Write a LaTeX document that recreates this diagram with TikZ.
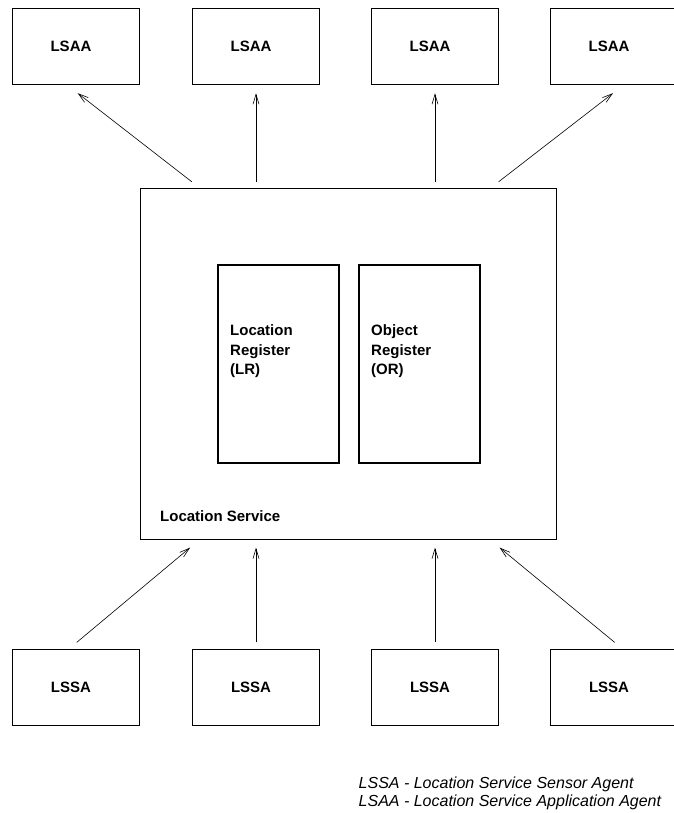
\documentclass[tikz,border=0pt]{standalone}
\usepackage{fontspec}
\setmainfont{Liberation Sans}
\usetikzlibrary{arrows.meta,calc}
\begin{document}
\begin{tikzpicture}[x=1pt,y=-1pt,
  agent/.style={draw,line width=0.8pt,minimum width=127pt,minimum height=76pt,
    inner sep=0pt,font=\fontsize{15}{18}\selectfont\bfseries,
    execute at end node={\kern10pt}},
  service/.style={draw,line width=0.8pt,minimum width=416pt,minimum height=351pt,inner sep=0pt},
  register/.style={draw,line width=2pt,minimum width=121pt,minimum height=198pt,inner sep=0pt},
  boldtext/.style={inner sep=0pt,align=left,font=\fontsize{15}{19.4}\selectfont\bfseries},
  legendtext/.style={inner sep=0pt,align=left,font=\fontsize{16}{17.6}\selectfont\itshape},
  arr/.style={line width=0.6pt,-{Straight Barb[length=10pt,width=6pt,line width=0.6pt]}}]
\useasboundingbox (0,0) rectangle (673,813);

% application agents (top row)
\node[agent] (t1) at (76,46.5) {LSAA};
\node[agent] (t2) at (256,46.5) {LSAA};
\node[agent] (t3) at (435,46.5) {LSAA};
\node[agent] (t4) at (614,46.5) {LSAA};

% location service with its two registers
\node[service] (ls) at (348.5,364) {};
\node[register] (lr) at (278.2,364) {};
\node[register] (or) at (419.2,364) {};
\node[boldtext,anchor=north west] (lrt) at (230,324.6) {Location\\Register\\(LR)};
\node[boldtext,anchor=north west] (ort) at (371,324.6) {Object\\Register\\(OR)};
\node[boldtext,anchor=base west] (lst) at (160,521.5) {Location Service};

% sensor agents (bottom row)
\node[agent] (b1) at (76,687.5) {LSSA};
\node[agent] (b2) at (256,687.5) {LSSA};
\node[agent] (b3) at (435,687.5) {LSSA};
\node[agent] (b4) at (614,687.5) {LSSA};

% service -> application agents
\draw[arr] ([xshift=51.7pt,yshift=6.3pt]ls.north west) -- ([xshift=1.7pt,yshift=-8.3pt]t1.south);
\draw[arr] ([yshift=6.3pt]ls.north -| t2.south) -- ([yshift=-8.3pt]t2.south);
\draw[arr] ([yshift=6.3pt]ls.north -| t3.south) -- ([yshift=-8.3pt]t3.south);
\draw[arr] ([xshift=-58.3pt,yshift=6.3pt]ls.north east) -- ([xshift=-1pt,yshift=-8.3pt]t4.south);

% sensor agents -> service
\draw[arr] ([xshift=0.7pt,yshift=6.7pt]b1.north) -- ([xshift=50pt,yshift=-7.7pt]ls.south west);
\draw[arr] ([yshift=6.7pt]b2.north) -- ([yshift=-7.7pt]ls.south -| b2.north);
\draw[arr] ([yshift=6.7pt]b3.north) -- ([yshift=-7.7pt]ls.south -| b3.north);
\draw[arr] ([xshift=0.7pt,yshift=6.7pt]b4.north) -- ([xshift=-57.3pt,yshift=-7.7pt]ls.south east);

% legend
\node[legendtext,anchor=north west] (legend) at (358.5,777.0)
  {LSSA - Location Service Sensor Agent\\LSAA - Location Service Application Agent};
\end{tikzpicture}
\end{document}
